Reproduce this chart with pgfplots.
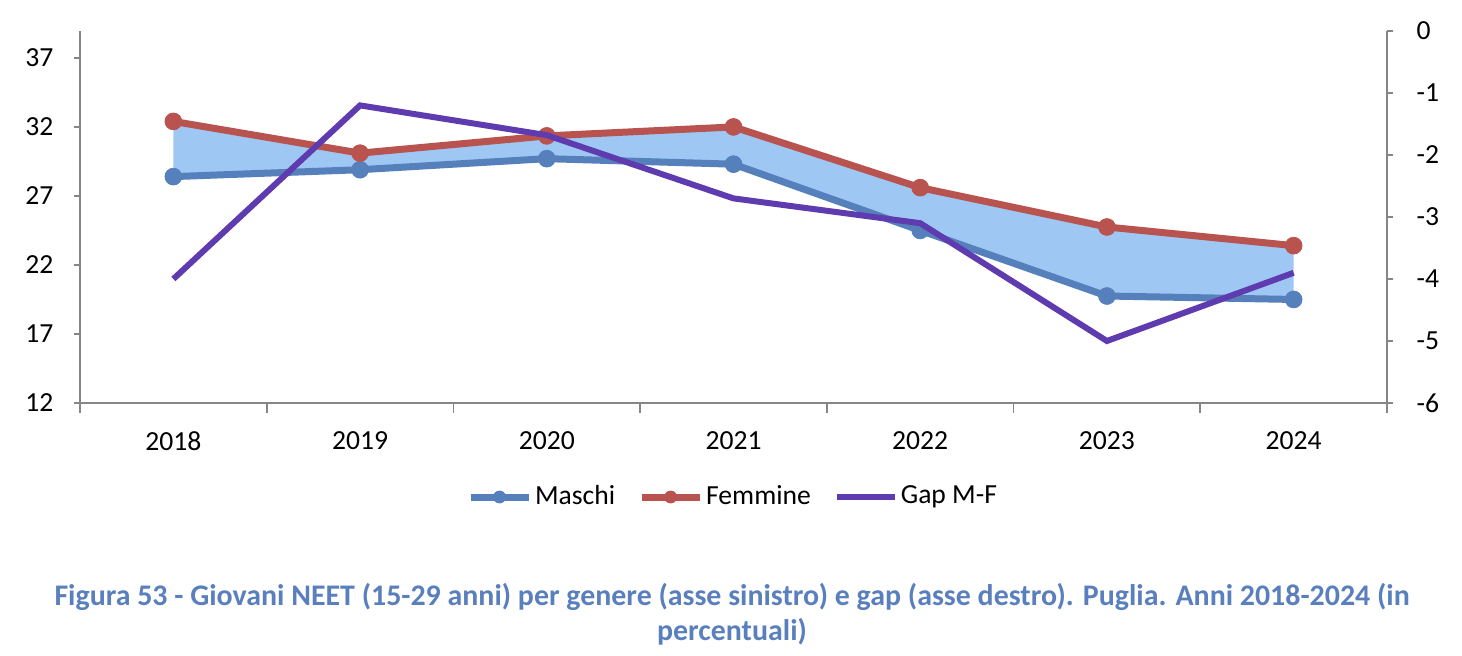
\documentclass[border=0pt]{standalone}
\usepackage{fontspec}
\setmainfont{Carlito}
\usepackage{pgfplots}
\usepackage{pgfplotstable}
\pgfplotsset{compat=1.18}
\usepgfplotslibrary{fillbetween}
\definecolor{cM}{HTML}{5680BB}
\definecolor{cF}{HTML}{B9534F}
\definecolor{cG}{HTML}{5F3BB0}
\definecolor{cFill}{HTML}{9EC8F3}
\definecolor{cAx}{HTML}{868686}
\definecolor{cCap}{HTML}{5A7FBD}
\pgfplotstableread{
x M F
0 28.4 32.4
1 28.9 30.1
2 29.7 31.35
3 29.3 32.0
4 24.5 27.6
5 19.75 24.75
6 19.5 23.4
}\neet
\pgfplotstableread{
x G
0 -4.0
1 -1.2
2 -1.68
3 -2.7
4 -3.1
5 -5.0
6 -3.9
}\gap
\begin{document}
\fontsize{13.8pt}{16pt}\selectfont
\begin{tikzpicture}
\begin{axis}[
  at={(40pt,-201.5pt)}, anchor=south west,
  scale only axis, width=653.5pt, height=186pt,
  xmin=-0.5, xmax=6.5, ymin=12, ymax=38.95,
  axis x line*=bottom, axis y line*=left,
  axis line style={cAx, line width=0.8pt, -},
  xtick={0,...,6}, xticklabels={2018,2019,2020,2021,2022,2023,2024},
  minor xtick={-0.5,0.5,...,6.5},
  major x tick style={draw=none},
  minor x tick style={cAx, line width=0.8pt},
  y tick style={cAx, line width=0.8pt},
  tick align=outside, major tick length=3pt, minor tick length=5pt,
  ytick={12,17,22,27,32,37},
  x tick label style={yshift=-6.5pt},
  y tick label style={xshift=-5.5pt},
  /pgf/number format/assume math mode=true,
  ticklabel style={font=\fontsize{13.8pt}{16pt}\selectfont},
  clip=false,
  legend style={at={(0.5,-0.2527)}, anchor=center, draw=none, fill=none,
    legend columns=3, font=\fontsize{13.8pt}{16pt}\selectfont,
    nodes={inner xsep=1.5pt},
    /tikz/every even column/.append style={column sep=10pt}},
  legend cell align=left,
]
\addplot[draw=none, name path=M, forget plot] table[x=x,y=M] {\neet};
\addplot[draw=none, name path=F, forget plot] table[x=x,y=F] {\neet};
\addplot[cFill, forget plot] fill between[of=M and F];
\addplot[cM, line width=3.5pt, mark=*, mark size=4.2pt, mark options={solid, line width=0.4pt}] table[x=x,y=M] {\neet};
\addlegendentry{Maschi}
\addplot[cF, line width=3.5pt, mark=*, mark size=4.2pt, mark options={solid, line width=0.4pt}] table[x=x,y=F] {\neet};
\addlegendentry{Femmine}
\addlegendimage{cG, line width=3pt}
\addlegendentry{Gap M-F}
\pgfplotsset{legend image code/.code={\draw[mark repeat=2,mark phase=2,#1,mark size=3pt] plot coordinates {(0pt,0pt) (14.5pt,0pt) (29pt,0pt)};}}
\end{axis}
\begin{axis}[
  at={(40pt,-201.5pt)}, anchor=south west,
  scale only axis, width=653.5pt, height=186pt,
  xmin=-0.5, xmax=6.5, ymin=-6, ymax=0,
  axis x line=none, axis y line*=right,
  axis line style={cAx, line width=0.8pt, -},
  y tick style={cAx, line width=0.8pt},
  tick align=outside, major tick length=3pt,
  ytick={-6,...,0},
  y tick label style={xshift=7pt},
  /pgf/number format/assume math mode=true,
  ticklabel style={font=\fontsize{13.8pt}{16pt}\selectfont},
  clip=false,
]
\addplot[cG, line width=3pt] table[x=x,y=G] {\gap};
\end{axis}
\node[align=center, text=cCap, font=\bfseries\fontsize{14.95pt}{17.5pt}\selectfont] at (366pt,-307pt)
  {Figura 53 - Giovani NEET (15-29 anni) per genere (asse sinistro) e gap (asse destro). Puglia. Anni 2018-2024 (in\\ percentuali)};
\pgfresetboundingbox
\path (0,0) rectangle (731pt,-328pt);
\end{tikzpicture}
\end{document}
